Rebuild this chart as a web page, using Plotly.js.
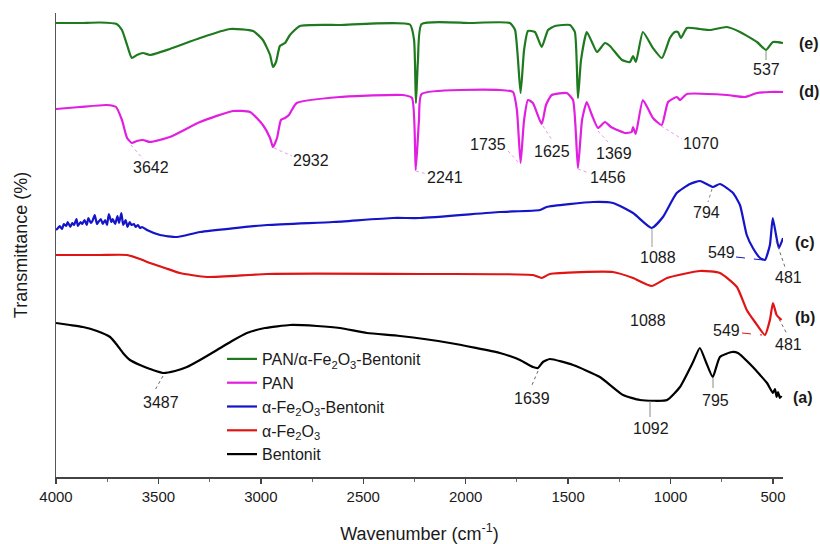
<!DOCTYPE html>
<html><head><meta charset="utf-8">
<script src="https://cdn.plot.ly/plotly-3.0.1.min.js"></script>
<style>html,body{margin:0;padding:0;background:#fff}</style>
</head><body>
<div id="chart" style="width:820px;height:544px"></div>
<script>
// ---- Data (wavenumber, cm-1) and transmittance (arbitrary offset units) ----
const seriesNames = [
  "PAN/α-Fe<sub>2</sub>O<sub>3</sub>-Bentonit",
  "PAN",
  "α-Fe<sub>2</sub>O<sub>3</sub>-Bentonit",
  "α-Fe<sub>2</sub>O<sub>3</sub>",
  "Bentonit"
];

// (e) PAN/α-Fe2O3-Bentonit
const wnE = [4000,3883,3785,3704,3678,3653,3630,3605,3575,3541,3444,3297,3151,3038,2990,2955,2941,2926,2907,2882,2858,2809,2614,2272,2252,2243,2233,2215,1979,1784,1759,1732,1715,1696,1662,1629,1598,1564,1491,1467,1452,1437,1409,1384,1359,1320,1296,1237,1198,1183,1169,1135,1086,1042,1003,979,964,949,920,857,808,725,661,578,534,500,451];
const tE  = [454,454,454.5,453,447,432,419,422,424,422,428,439,448,446,437,422,410,415,431,434,442,451,452,452.5,437,374,417,453,454,454,447,384,427,446,445,430,447,451,452,445,379,417,445,435,425,434,431,417,415,421,415,445,429,419,439,445,445,439,449,448,447,450,445,435,427,435,434];

// (d) PAN
const wnD = [4000,3883,3753,3707,3678,3653,3630,3605,3575,3541,3444,3297,3136,3053,2990,2955,2941,2921,2902,2882,2863,2825,2614,2306,2262,2244,2228,2215,1833,1769,1750,1732,1715,1696,1672,1629,1608,1580,1507,1476,1452,1432,1409,1384,1354,1320,1291,1222,1190,1183,1170,1135,1086,1043,1012,969,954,920,725,637,578,515,451];
const tD  = [368,370,372,370,357,339,334,336,337,335,340,355,366,365,352,339,330,339,357,359,362,374,380,382,379,307,357,383,387,385,367,314,357,377,374,353,372,382,384,377,309,357,375,362,349,355,350,344,345,350,343,377,359,352,375,380,377,383,382,380,384,385,385];

// (c) α-Fe2O3-Bentonit
const wnC = [4000,3990,3982,3970,3962,3950,3943,3930,3921,3912,3900,3893,3880,3872,3861,3850,3842,3830,3822,3811,3800,3793,3781,3772,3760,3751,3742,3730,3723,3711,3700,3692,3681,3672,3660,3651,3640,3632,3620,3611,3600,3590,3580,3556,3492,3409,3297,2970,2648,2355,2223,1833,1637,1605,1379,1281,1183,1092,1037,970,905,856,793,759,695,661,628,598,563,539,515,501,485,471,451];
const tC  = [247,249,251,248,253,251,255,250,254,252,258,251,255,253,257,252,259,254,256,262,253,255,258,253,257,252,263,255,258,253,261,254,264,252,257,250,255,252,253,250,252,249,250,247,242,240,245,252,255,259,259,265,267,270,275,274,264,249,260,284,293,296,290,293,284,272,242,229,219,217,232,259,242,229,239];

// (b) α-Fe2O3
const wnB = [4000,3785,3653,3590,3541,3468,3395,3263,2970,2223,1672,1629,1589,1281,1183,1092,1017,856,759,676,628,588,539,515,500,482,458];
const tB  = [222,222,222,218,214,209,204,200,203,203,202,199,203,205,199,191,199,206,204,190,167,155,142,157,174,162,157];

// (a) Bentonit
const wnA = [4000,3932,3868,3800,3736,3702,3673,3639,3590,3541,3478,3419,3361,3297,3214,3141,3068,2980,2858,2726,2614,2482,2321,2077,1833,1735,1672,1647,1623,1589,1476,1345,1232,1149,1017,954,890,857,827,794,759,700,671,598,563,529,500,490,482,475,466,458];
const tA  = [154,152,150,146,140,132,124,117,112,108,104,106,110,117,127,136,144,149,152,151,149,144,141,134,124,117,110,109,115,118,112,100,82,77,77,90,115,129,115,100,120,125,124,110,102,94,84,88,80,85,79,81];

const tickVals = [4000,3500,3000,2500,2000,1500,1000,500];
const minorTickVals = [3750,3250,2750,2250,1750,1250,750];

// ---- Styles ----
const colors = ["#1f7a1f", "#e01fe0", "#1414c8", "#e01414", "#000000"];
const FONT = "Arial, 'Liberation Sans', sans-serif";

const xs = [wnE, wnD, wnC, wnB, wnA];
const ys = [tE, tD, tC, tB, tA];
const traces = xs.map((x, i) => ({
  x: x, y: ys[i], type: "scatter", mode: "lines", name: seriesNames[i],
  line: {color: colors[i], width: 2.2, shape: "spline", smoothing: 0.5}
}));

// plot-area pixel -> paper helpers for label layout
const L = 56, W = 727, B = 477, H = 464;
const X = px => (px - L) / W;
const Y = py => (B - py) / H;

const labels = [
  // text, cx, cy, leader [x1,y1,x2,y2], color, dash
  ["3642", 151, 167, [131,145,143,159], "#e89ae8", "dot"],
  ["2932", 311, 160, [274,148,292,156], "#e89ae8", "dot"],
  ["2241", 445, 177, [416,171,427,174], "#e89ae8", "dot"],
  ["1735", 488, 145, [508,151,520,164], "#e89ae8", "dot"],
  ["1625", 552, 152, [543,126,552,140], "#e89ae8", "dot"],
  ["1456", 608, 177, [578,169,589,173], "#e89ae8", "dot"],
  ["1369", 614, 153, [598,131,609,143], "#e89ae8", "dot"],
  ["1070", 701, 143, [661,126,682,139], "#e89ae8", "dot"],
  ["537", 766, 70, [766,51,766,60], "#7a9a7a", "solid"],
  ["794", 706, 212, [712,189,708,202], "#888888", "dot"],
  ["1088", 658, 257, [652,229,652,247], "#999999", "solid"],
  ["549", 721, 253, [736,257,763,260], "#1414c8", "dash"],
  ["481", 788, 277, [776,241,785,267], "#666666", "dot"],
  ["1088", 648, 320, null, null, null],
  ["549", 726, 330, [742,333,762,335], "#e01414", "dash"],
  ["481", 788, 345, [779,319,787,334], "#666666", "dot"],
  ["3487", 161, 402, [163,376,155,390], "#666666", "dot"],
  ["1639", 532, 398, [538,371,532,385], "#666666", "dot"],
  ["1092", 651, 428, [650,401,650,417], "#888888", "solid"],
  ["795", 715, 400, [713,378,713,388], "#888888", "solid"]
];
const tags = [["(e)", 809, 43], ["(d)", 809, 92], ["(c)", 805, 242], ["(b)", 805, 317], ["(a)", 803, 397]];

const annotations = labels.map(l => ({
  text: l[0], x: X(l[1]), y: Y(l[2]), xref: "paper", yref: "paper",
  xanchor: "center", yanchor: "middle", showarrow: false,
  font: {family: FONT, size: 16, color: "#1a1a1a"}
})).concat(tags.map(t => ({
  text: "<b>" + t[0] + "</b>", x: X(t[1]), y: Y(t[2]), xref: "paper", yref: "paper",
  xanchor: "center", yanchor: "middle", showarrow: false,
  font: {family: FONT, size: 16, color: "#1a1a1a"}
})));

const shapes = labels.filter(l => l[3]).map(l => ({
  type: "line", xref: "paper", yref: "paper",
  x0: X(l[3][0]), y0: Y(l[3][1]), x1: X(l[3][2]), y1: Y(l[3][3]),
  line: {color: l[4], width: 1, dash: l[5]}
}));

const layout = {
  width: 820, height: 544,
  margin: {l: L, r: 820 - L - W, t: 13, b: 544 - B},
  paper_bgcolor: "#fff", plot_bgcolor: "#fff",
  showlegend: true,
  legend: {
    x: X(222), y: Y(342), xanchor: "left", yanchor: "top",
    bgcolor: "rgba(0,0,0,0)", borderwidth: 0,
    font: {family: FONT, size: 16, color: "#1a1a1a"},
    itemwidth: 30, tracegroupgap: 0
  },
  xaxis: {
    range: [4000, 451], autorange: false,
    tickmode: "array", tickvals: tickVals, ticktext: tickVals.map(String),
    ticks: "outside", ticklen: 5, tickwidth: 1.5, tickcolor: "#444",
    minor: {tickmode: "array", tickvals: minorTickVals, ticks: "outside", ticklen: 3, tickwidth: 1, tickcolor: "#666", showgrid: false},
    showline: true, linecolor: "#444", linewidth: 1.5,
    showgrid: false, zeroline: false,
    tickfont: {family: FONT, size: 15, color: "#1a1a1a"},
    title: {text: "Wavenumber (cm<sup>-1</sup>)", font: {family: FONT, size: 18, color: "#1a1a1a"}, standoff: 24}
  },
  yaxis: {
    range: [0, 464], autorange: false,
    showline: true, linecolor: "#555", linewidth: 1.5,
    showticklabels: false, ticks: "", showgrid: false, zeroline: false,
    title: {text: "Transmittance (%)", font: {family: FONT, size: 18, color: "#1a1a1a"}, standoff: 22}
  },
  annotations: annotations,
  shapes: shapes
};

Plotly.newPlot("chart", traces, layout, {displayModeBar: false, staticPlot: true});
</script>
</body></html>
